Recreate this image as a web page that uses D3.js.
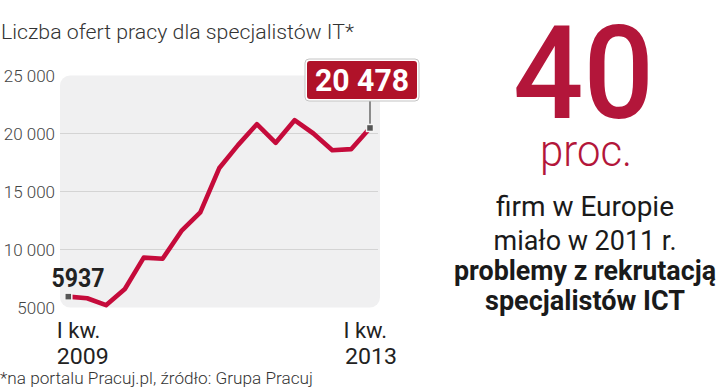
<!DOCTYPE html>
<html>
<head>
<meta charset="utf-8">
<script src="https://cdn.jsdelivr.net/npm/d3@7"></script>
<style>
  body { margin: 0; background: #fff; }
  svg { display: block; font-family: Roboto, "Noto Sans", sans-serif; }
</style>
</head>
<body>
<svg id="chart"></svg>
<script>
// quarters I kw. 2009 .. I kw. 2013
var quarters = ["I 2009","II 2009","III 2009","IV 2009","I 2010","II 2010","III 2010","IV 2010",
                "I 2011","II 2011","III 2011","IV 2011","I 2012","II 2012","III 2012","IV 2012","I 2013"];
var offers = [5937, 5800, 5200, 6600, 9300, 9200, 11600, 13200, 17000, 19000, 20800, 19200, 21150, 20000, 18550, 18650, 20478];
var yTicks = [5000, 10000, 15000, 20000, 25000];
var yTickLabels = ["5000", "10 000", "15 000", "20 000", "25 000"];
var xLabels = [["I kw.", "2009"], ["I kw.", "2013"]];

var red = "#c50b3b";
var darkRed = "#b3163a";

var svg = d3.select("#chart")
    .attr("width", 720)
    .attr("height", 390);

var x = d3.scaleLinear().domain([0, quarters.length - 1]).range([68.3, 370]);
var y = d3.scaleLinear().domain([5000, 25000]).range([307.5, 75.5]);

// title
svg.append("text")
    .attr("x", 1).attr("y", 39)
    .attr("font-size", 21).attr("font-weight", 300).attr("fill", "#333")
    .attr("textLength", 353).attr("lengthAdjust", "spacingAndGlyphs")
    .text("Liczba ofert pracy dla specjalistów IT*");

// plot background
svg.append("rect")
    .attr("x", 60).attr("y", y(25000))
    .attr("width", 320).attr("height", y(5000) - y(25000))
    .attr("rx", 10)
    .attr("fill", "#f0f0f1");

// grid
svg.append("g")
    .selectAll("line")
    .data(yTicks.slice(1, -1))
    .enter()
    .append("line")
    .attr("x1", 60).attr("x2", 378)
    .attr("y1", function(d) { return y(d); })
    .attr("y2", function(d) { return y(d); })
    .attr("stroke", "#d4d4d4")
    .attr("stroke-width", 1);

// y labels
svg.append("g")
    .selectAll("text")
    .data(yTicks)
    .enter()
    .append("text")
    .attr("x", 55)
    .attr("y", function(d) { return y(d); })
    .attr("dy", "0.36em")
    .attr("text-anchor", "end")
    .attr("font-size", 17).attr("font-weight", 300).attr("fill", "#444")
    .text(function(d, i) { return yTickLabels[i]; });

// line
var line = d3.line()
    .x(function(d, i) { return x(i); })
    .y(function(d) { return y(d); });

svg.append("path")
    .datum(offers)
    .attr("d", line)
    .attr("fill", "none")
    .attr("stroke", red)
    .attr("stroke-width", 4.6)
    .attr("stroke-linejoin", "round");

// end markers
var last = offers.length - 1;
var px = x(last), py = y(offers[last]);

svg.append("line")
    .attr("x1", px).attr("x2", px)
    .attr("y1", 101).attr("y2", py)
    .attr("stroke", "#555").attr("stroke-width", 1.3);

svg.selectAll("rect.marker")
    .data([0, last])
    .enter()
    .append("rect")
    .attr("class", "marker")
    .attr("x", function(i) { return x(i) - 3.5; })
    .attr("y", function(i) { return y(offers[i]) - 3.5; })
    .attr("width", 7).attr("height", 7)
    .attr("fill", "#555")
    .attr("stroke", "#f4f4f4").attr("stroke-width", 1.5);

// value box for last point
svg.append("rect")
    .attr("x", px - 65).attr("y", 59)
    .attr("width", 114).attr("height", 42)
    .attr("rx", 4)
    .attr("fill", "#fff").attr("stroke", "#c4c4c4");
svg.append("rect")
    .attr("x", px - 63).attr("y", 61)
    .attr("width", 110).attr("height", 38)
    .attr("rx", 3)
    .attr("fill", "#b01229");
svg.append("text")
    .attr("x", px - 8).attr("y", 91)
    .attr("text-anchor", "middle")
    .attr("font-size", 32).attr("font-weight", 700).attr("fill", "#fff")
    .attr("textLength", 94).attr("lengthAdjust", "spacingAndGlyphs")
    .text(d3.format(",")(offers[last]).replace(",", " "));

// first value label
svg.append("text")
    .attr("x", 51.5).attr("y", 287)
    .attr("font-size", 26).attr("font-weight", 700).attr("fill", "#222")
    .attr("textLength", 53).attr("lengthAdjust", "spacingAndGlyphs")
    .text(offers[0]);

// x labels
var xl = svg.append("g")
    .selectAll("text")
    .data(xLabels)
    .enter()
    .append("text")
    .attr("x", function(d, i) { return i === 0 ? x(0) - 11.5 : x(last) - 26.5; })
    .attr("y", 338)
    .attr("font-size", 22).attr("fill", "#222");
xl.append("tspan").text(function(d) { return d[0]; });
xl.append("tspan")
    .attr("x", function(d, i) { return i === 0 ? x(0) - 11.5 : x(last) - 25; })
    .attr("dy", 26)
    .attr("textLength", 52).attr("lengthAdjust", "spacingAndGlyphs")
    .text(function(d) { return d[1]; });

// footnote
svg.append("text")
    .attr("x", 0).attr("y", 384)
    .attr("font-size", 17).attr("font-weight", 300).attr("fill", "#333")
    .attr("textLength", 313).attr("lengthAdjust", "spacingAndGlyphs")
    .text("*na portalu Pracuj.pl, źródło: Grupa Pracuj");

// right side
var cx = 585;
svg.append("text")
    .attr("x", 583.5).attr("y", 118)
    .attr("text-anchor", "middle")
    .attr("font-size", 130).attr("font-weight", 500).attr("fill", darkRed)
    .attr("textLength", 141).attr("lengthAdjust", "spacingAndGlyphs")
    .text("40");
svg.append("text")
    .attr("x", 586).attr("y", 166)
    .attr("text-anchor", "middle")
    .attr("font-size", 44).attr("font-weight", 300).attr("fill", darkRed)
    .attr("textLength", 92).attr("lengthAdjust", "spacingAndGlyphs")
    .text("proc.");

var rightLines = [
    { t: "firm w Europie", y: 216, w: 178, b: 400 },
    { t: "miało w 2011 r.", y: 250, w: 183, b: 400 },
    { t: "problemy z rekrutacją", y: 280, w: 262, b: 700 },
    { t: "specjalistów ICT", y: 310, w: 200, b: 700 }
];
svg.append("g")
    .selectAll("text")
    .data(rightLines)
    .enter()
    .append("text")
    .attr("x", cx)
    .attr("y", function(d) { return d.y; })
    .attr("text-anchor", "middle")
    .attr("font-size", 28)
    .attr("font-weight", function(d) { return d.b; })
    .attr("fill", "#1a1a1a")
    .attr("textLength", function(d) { return d.w; })
    .attr("lengthAdjust", "spacingAndGlyphs")
    .text(function(d) { return d.t; });
</script>
</body>
</html>
